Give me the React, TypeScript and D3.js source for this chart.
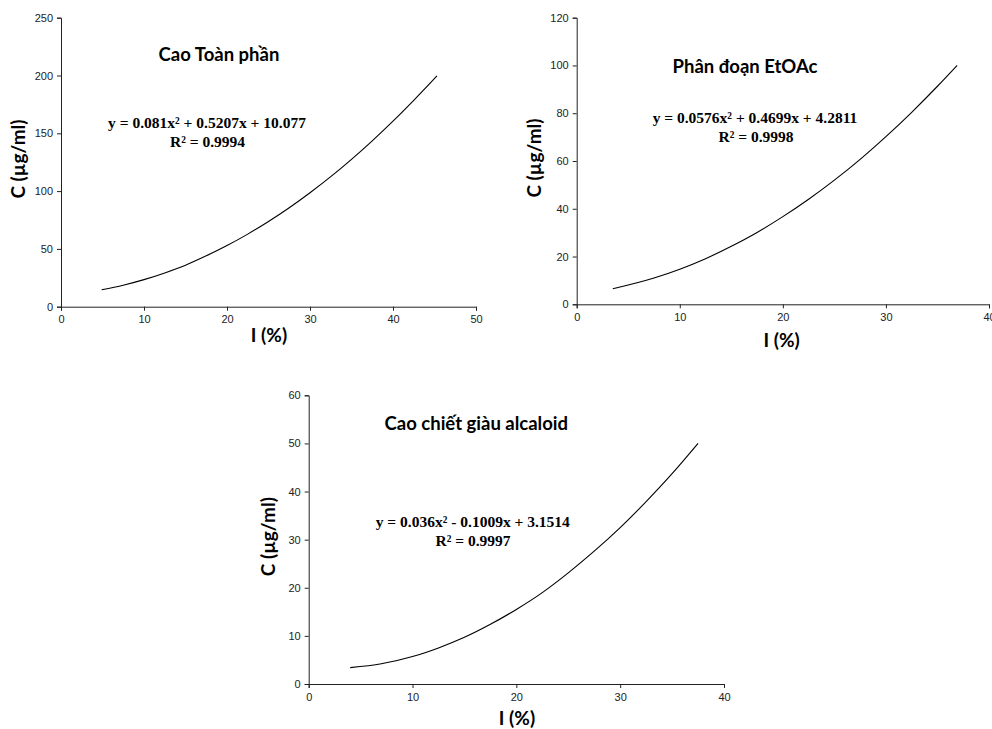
import React, { useEffect, useRef } from 'react';
import * as d3 from 'd3';

// Cao Toàn phần
const xToanPhan = [4.9, 7.5, 10, 12.5, 15, 17.5, 20, 22.5, 25, 27.5, 30, 32.5, 35, 37.5, 40, 42.5, 45.3];
const yToanPhan = [14.6, 18.6, 23.4, 29.2, 35.9, 44, 52.9, 62.8, 73.7, 85.6, 98.6, 112.5, 127.5, 143.5, 160.5, 178.5, 199.6];
// Phân đoạn EtOAc
const xEtOAc = [3.5, 7.5, 10, 12.5, 15, 17.5, 20, 22.5, 25, 27.5, 30, 32.5, 35, 36.9];
const yEtOAc = [6.5, 11, 14.7, 19.1, 24.3, 30.1, 36.7, 44, 52, 60.7, 70.2, 80.4, 91.3, 100];
// Cao chiết giàu alcaloid
const xAlcaloid = [4, 7, 10, 12.5, 15, 17.5, 20, 22.5, 25, 27.5, 30, 32.5, 35, 37.5];
const yAlcaloid = [3.4, 4.2, 5.7, 7.5, 9.7, 12.4, 15.5, 19, 23.1, 27.6, 32.5, 37.9, 43.7, 50];

const titles = ['Cao Toàn phần', 'Phân đoạn EtOAc', 'Cao chiết giàu alcaloid'];
const equations = [
  'y = 0.081x² + 0.5207x + 10.077',
  'y = 0.0576x² + 0.4699x + 4.2811',
  'y = 0.036x² - 0.1009x + 3.1514',
];
const r2Labels = ['R² = 0.9994', 'R² = 0.9998', 'R² = 0.9997'];
const xMaxes = [50, 40, 40];
const yMaxes = [250, 120, 60];
const yTickSteps = [50, 20, 10];

const App = () => {
  const svgRef = useRef(null);

  useEffect(() => {
    const svg = d3.select(svgRef.current);
    svg.selectAll('*').remove();

    const panels = [
      { xs: xToanPhan, ys: yToanPhan, left: 61, right: 476, top: 17.7, bottom: 306.7,
        title: [219, 61], eq: [207, 128], r2: [207.5, 147], yLab: [25, 159], xLab: [269, 342] },
      { xs: xEtOAc, ys: yEtOAc, left: 576.7, right: 989, top: 17.7, bottom: 304.3,
        title: [745, 72.7], eq: [755, 122.7], r2: [756, 141.7], yLab: [541, 158], xLab: [781.7, 346.7] },
      { xs: xAlcaloid, ys: yAlcaloid, left: 308.7, right: 724, top: 395.3, bottom: 684,
        title: [476.3, 430], eq: [472.8, 526.7], r2: [473, 545.7], yLab: [275, 536.7], xLab: [517, 725] },
    ];

    panels.forEach((p, i) => {
      const x = d3.scaleLinear().domain([0, xMaxes[i]]).range([p.left, p.right]);
      const y = d3.scaleLinear().domain([0, yMaxes[i]]).range([p.bottom, p.top]);
      const g = svg.append('g');

      // y axis
      const yAxis = g.append('g')
        .attr('transform', `translate(${p.left},0)`)
        .call(d3.axisLeft(y).tickValues(d3.range(0, yMaxes[i] + 0.001, yTickSteps[i])).tickSize(4).tickPadding(4));
      // x axis
      const xAxis = g.append('g')
        .attr('transform', `translate(0,${p.bottom})`)
        .call(d3.axisBottom(x).tickValues(d3.range(0, xMaxes[i] + 0.001, 10)).tickSize(4).tickPadding(5));
      [yAxis, xAxis].forEach((a) => {
        a.select('.domain').attr('stroke', '#222').attr('stroke-width', 1);
        a.selectAll('.tick line').attr('stroke', '#222');
        a.selectAll('.tick text')
          .attr('fill', '#222')
          .style('font-family', '"Liberation Sans", Arial, sans-serif')
          .style('font-size', '11px');
      });

      // trend curve
      const line = d3.line<number>()
        .x((d, k) => x(p.xs[k]))
        .y((d) => y(d))
        .curve(d3.curveMonotoneX);
      g.append('path')
        .attr('d', line(p.ys))
        .attr('fill', 'none')
        .attr('stroke', '#000')
        .attr('stroke-width', 1.1);

      // title
      g.append('text')
        .attr('x', p.title[0]).attr('y', p.title[1])
        .attr('text-anchor', 'middle')
        .style('font-family', 'Lato, "Open Sans", sans-serif')
        .style('font-weight', 'bold')
        .style('font-size', '18.5px')
        .text(titles[i]);

      // equation + R²
      [[equations[i], p.eq], [r2Labels[i], p.r2]].forEach(([t, pos]) => {
        g.append('text')
          .attr('x', pos[0]).attr('y', pos[1])
          .attr('text-anchor', 'middle')
          .style('font-family', '"Liberation Serif", "Times New Roman", serif')
          .style('font-weight', 'bold')
          .style('font-size', '15.5px')
          .text(t);
      });

      // axis titles
      g.append('text')
        .attr('transform', `translate(${p.yLab[0]},${p.yLab[1]}) rotate(-90)`)
        .attr('text-anchor', 'middle')
        .style('font-family', 'Lato, "Open Sans", sans-serif')
        .style('font-weight', 'bold')
        .style('font-size', '19px')
        .text('C (µg/ml)');
      g.append('text')
        .attr('x', p.xLab[0]).attr('y', p.xLab[1])
        .attr('text-anchor', 'middle')
        .style('font-family', 'Lato, "Open Sans", sans-serif')
        .style('font-weight', 'bold')
        .style('font-size', '19px')
        .text('I (%)');
    });
  }, []);

  return (
    <svg
      ref={svgRef}
      width={992}
      height={729}
      style={{ position: 'absolute', left: 0, top: 0, background: '#fff' }}
    />
  );
};

export default App;
